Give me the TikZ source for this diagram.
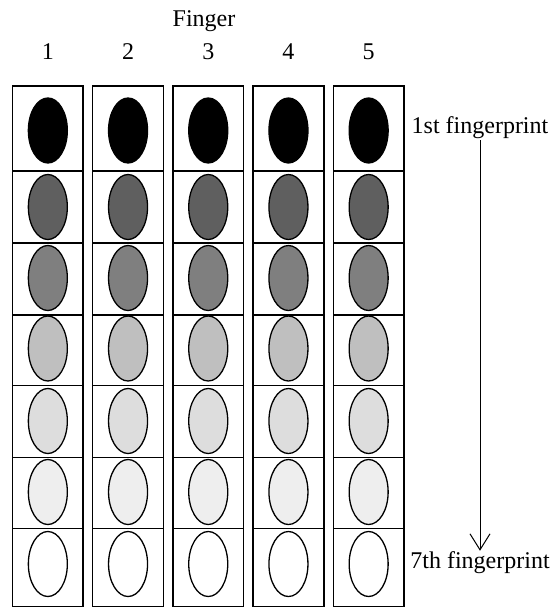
\documentclass[tikz,border=0pt]{standalone}
\usepackage{fontspec}
\setmainfont{Liberation Serif}
\usetikzlibrary{arrows.meta}
\definecolor{shadeA}{HTML}{000000}
\definecolor{shadeB}{HTML}{5F5F5F}
\definecolor{shadeC}{HTML}{7F7F7F}
\definecolor{shadeD}{HTML}{BFBFBF}
\definecolor{shadeE}{HTML}{DDDDDD}
\definecolor{shadeF}{HTML}{EEEEEE}
\definecolor{shadeG}{HTML}{FFFFFF}

\begin{document}
\begin{tikzpicture}[x=1pt,y=-1pt,>=Stealth,
    label/.style={font=\fontsize{24}{28}\selectfont,inner sep=1pt},
    cellbox/.style={line width=1.5pt},
    print/.style={line width=1.3pt}]
      \useasboundingbox (0,0) rectangle (555,608);
      \pgfmathsetmacro{\colLeft}{12.5}
      \pgfmathsetmacro{\colStep}{80.2}
      \pgfmathsetmacro{\colWidth}{70.7}

      % header
      \node[label] (finger) at (204,21) {Finger};
      \foreach \c in {1,...,5}
        \node[label] (num\c) at ({\colLeft+(\c-1)*\colStep+\colWidth/2},52) {\c};

      % columns of prints: top, bottom, print centre, shade
      \foreach \c in {1,...,5} {
        \pgfmathsetmacro{\xa}{\colLeft+(\c-1)*\colStep}
        \pgfmathsetmacro{\xm}{\xa+\colWidth/2}
        \foreach \ya/\yb/\ym/\sh in {86/171/130.5/shadeA,171/243/207/shadeB,
            243/315/278/shadeC,315/385.5/348.5/shadeD,385.5/457.5/421/shadeE,
            457.5/528.5/492/shadeF,528.5/606.5/564/shadeG} {
          \draw[cellbox] (\xa,\ya) rectangle (\xa+\colWidth,\yb);
          \draw[print,fill=\sh] (\xm,\ym) ellipse (19.5 and 32.5);
        }
      }

      % order of prints
      \node[label] (first) at (480,128) {1st fingerprint};
      \node[label] (last) at (480,563) {7th fingerprint};
      \draw[line width=1pt,-{Straight Barb[length=16pt,width=20pt]}] (first) -- (last);
    \end{tikzpicture}
\end{document}
